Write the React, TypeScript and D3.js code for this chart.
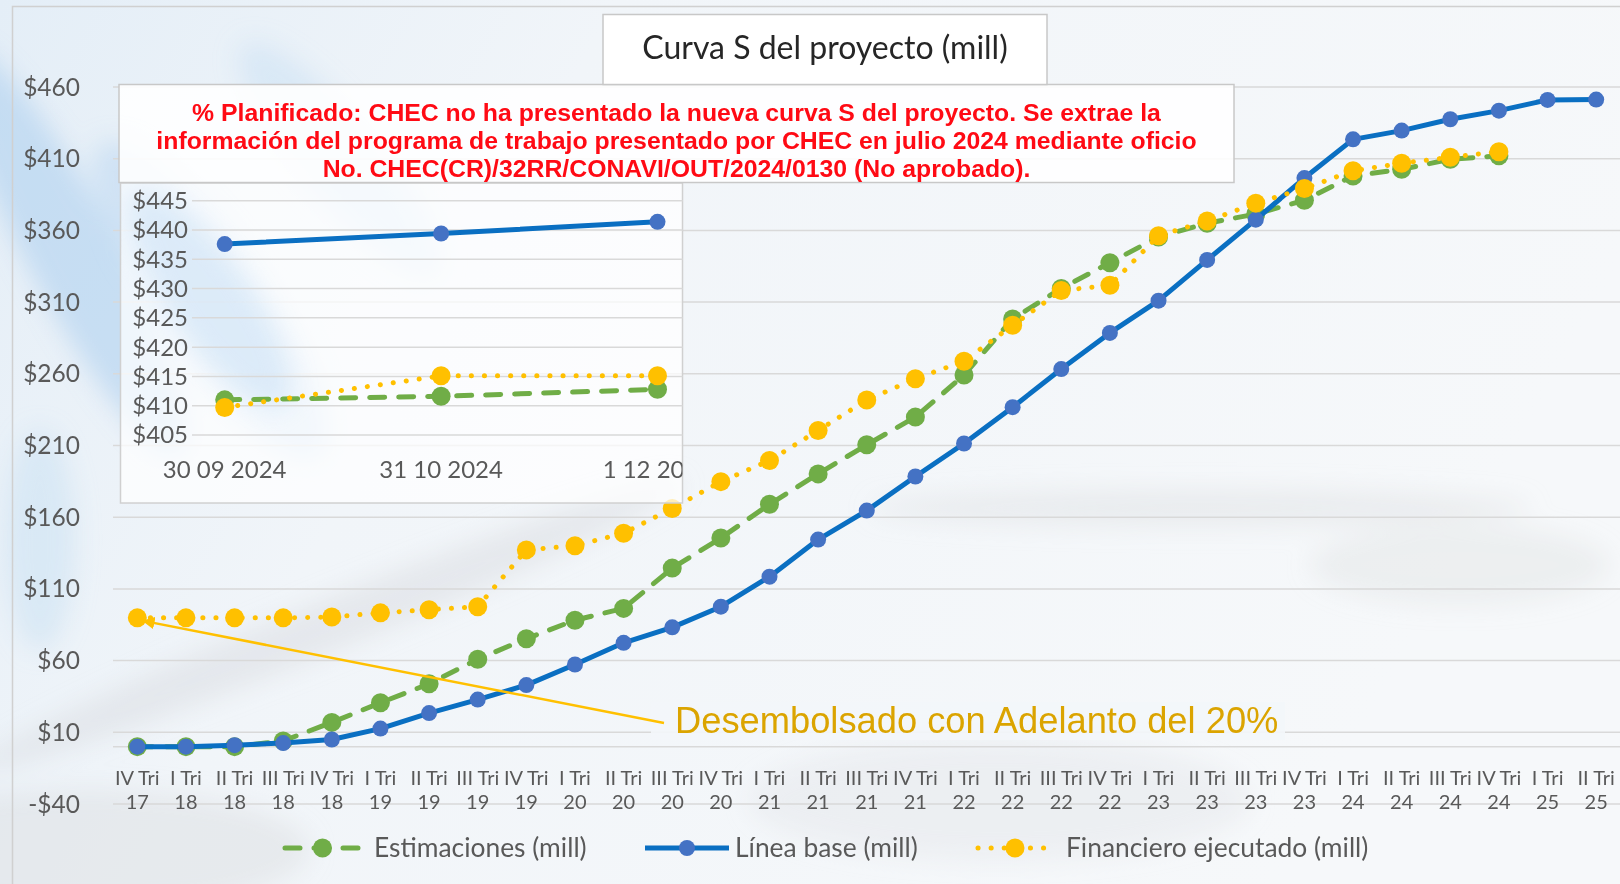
import * as d3 from "d3";

// categorías del eje X (trimestre / año)
const quarterLabels = [
  "IV Tri",
  "I Tri", "II Tri", "III Tri", "IV Tri",
  "I Tri", "II Tri", "III Tri", "IV Tri",
  "I Tri", "II Tri", "III Tri", "IV Tri",
  "I Tri", "II Tri", "III Tri", "IV Tri",
  "I Tri", "II Tri", "III Tri", "IV Tri",
  "I Tri", "II Tri", "III Tri", "IV Tri",
  "I Tri", "II Tri", "III Tri", "IV Tri",
  "I Tri", "II Tri",
];
const yearLabels = [
  "17",
  "18", "18", "18", "18",
  "19", "19", "19", "19",
  "20", "20", "20", "20",
  "21", "21", "21", "21",
  "22", "22", "22", "22",
  "23", "23", "23", "23",
  "24", "24", "24", "24",
  "25", "25",
];

// series (mill)
const estimaciones = [
  0, 0, 0, 4, 16.9, 30.6, 43.8, 60.9, 75.3, 88.2, 96.4, 124.5, 145.5, 169, 190.2,
  210.5, 229.8, 259.1, 298.3, 319.5, 337.5, 355.4, 365, 371.4, 381, 398, 402.6,
  409.6, 412, null, null,
];
const lineaBase = [
  0, 0, 1, 2.5, 5, 12.6, 23.4, 32.8, 42.9, 57.3, 72.4, 83.2, 97.6, 118.5, 144.4,
  164.6, 188.4, 211.4, 236.7, 263.3, 288.5, 311, 339.4, 367.5, 396.5, 423.5,
  429.6, 437.5, 443.5, 451, 451.2,
];
const financiero = [
  89.8, 89.8, 89.8, 89.8, 90.4, 93.3, 95.5, 97.6, 137.2, 140.1, 148.8, 166.1,
  184.8, 199.5, 220.5, 241.7, 256.5, 268.8, 293.8, 318.1, 321.7, 356.3, 366.5,
  379, 389.2, 401.6, 406.8, 411, 414.9, null, null,
];
const yTicks = [-40, 10, 60, 110, 160, 210, 260, 310, 360, 410, 460];

// gráfico pequeño (detalle 2024)
const insetDates = ["2024-09-30", "2024-10-31", "2024-12-01"];
const insetDateLabels = ["30 09 2024", "31 10 2024", "1 12 2024"];
const insetEstim = [411, 411.6, 412.8];
const insetBase = [437.6, 439.4, 441.4];
const insetFin = [409.7, 415.1, 415.1];
const insetTicks = [405, 410, 415, 420, 425, 430, 435, 440, 445];

const noteLines = [
  "% Planificado: CHEC no ha presentado la nueva curva S del proyecto. Se extrae la",
  "información del programa de trabajo presentado por CHEC en julio 2024 mediante oficio",
  "No. CHEC(CR)/32RR/CONAVI/OUT/2024/0130 (No aprobado).",
];

const GREEN = "#70AD47";
const BLUE_LINE = "#0A6FC2";
const BLUE_MARK = "#4472C4";
const YELLOW = "#FFC000";
const GRID = "#d9d9d9";
const LABEL = "#595959";
const FONT = "Lato, 'Open Sans', sans-serif";

const money = (v: number) => (v < 0 ? "-$" + Math.abs(v) : "$" + v);

export default function App() {
  const W = 1620;
  const H = 884;

  const idx = quarterLabels.map((_, i) => i);
  const x = d3.scaleBand<number>().domain(idx).range([113, 1620.5]);
  const cx = (i: number) => (x(i) as number) + x.bandwidth() / 2;
  const y = d3.scaleLinear().domain([-40, 460]).range([804, 87]);

  const mkLine = (yy: (v: number) => number, xx: (i: number) => number) =>
    d3
      .line<number | null>()
      .defined((d) => d != null)
      .x((d, i) => xx(i))
      .y((d) => yy(d as number));

  const mainLine = mkLine(y, cx);

  const series = [
    { name: "Estimaciones (mill)", data: estimaciones, color: GREEN, mark: GREEN, width: 5, dash: "15 14", r: 9.5 },
    { name: "Línea base (mill)", data: lineaBase, color: BLUE_LINE, mark: BLUE_MARK, width: 5, dash: "", r: 8 },
    { name: "Financiero ejecutado (mill)", data: financiero, color: YELLOW, mark: YELLOW, width: 5, dash: "0.1 13", r: 9.5 },
  ];

  // inset
  const parse = d3.timeParse("%Y-%m-%d");
  const dates = insetDates.map((d) => parse(d) as Date);
  const xi = d3.scaleTime().domain([dates[0], dates[2]]).range([224.7, 657.5]);
  const yi = d3.scaleLinear().domain([405, 445]).range([435, 200.7]);
  const insetLine = mkLine(yi, (i) => xi(dates[i]));
  const insetSeries = [
    { data: insetEstim, s: series[0] },
    { data: insetBase, s: series[1] },
    { data: insetFin, s: series[2] },
  ];

  const legendItems = [
    { s: series[0], x0: 285, x1: 360, tx: 374 },
    { s: series[1], x0: 645, x1: 729, tx: 735 },
    { s: series[2], x0: 978, x1: 1052, tx: 1066 },
  ];

  const arrowEnd = { x: cx(0) + 6, y: y(financiero[0] as number) + 3 };

  return (
    <svg
      width={W}
      height={H}
      style={{ position: "absolute", left: 0, top: 0, fontFamily: FONT }}
    >
      <defs>
        <linearGradient id="bg" x1="0" y1="0" x2="1" y2="0.3">
          <stop offset="0" stopColor="#e4eef7" />
          <stop offset="0.35" stopColor="#f1f5f9" />
          <stop offset="1" stopColor="#f6f8fa" />
        </linearGradient>
        <filter id="blur" x="-50%" y="-50%" width="200%" height="200%">
          <feGaussianBlur stdDeviation="12" />
        </filter>
        <marker
          id="arrow"
          viewBox="0 0 10 10"
          refX="9"
          refY="5"
          markerWidth="5"
          markerHeight="5"
          orient="auto"
        >
          <path d="M0,0 L10,5 L0,10 z" fill={YELLOW} />
        </marker>
        <clipPath id="insetClip">
          <rect x={120.5} y={183} width={562} height={320} />
        </clipPath>
      </defs>

      {/* fondo */}
      <rect width={W} height={H} fill="url(#bg)" />
      <g filter="url(#blur)">
        <ellipse cx={70} cy={250} rx={45} ry={230} fill="#a9cdee" opacity={0.55} transform="rotate(-28 70 250)" />
        <ellipse cx={210} cy={300} rx={55} ry={190} fill="#b8d6f2" opacity={0.5} transform="rotate(-35 210 300)" />
        <ellipse cx={340} cy={160} rx={40} ry={150} fill="#c5def4" opacity={0.45} transform="rotate(-40 340 160)" />
        <ellipse cx={40} cy={540} rx={35} ry={110} fill="#c4ddf2" opacity={0.45} />
        <ellipse cx={330} cy={625} rx={380} ry={26} fill="#d6dade" opacity={0.45} transform="rotate(-22 330 625)" />
        <ellipse cx={1200} cy={508} rx={330} ry={18} fill="#dcdee0" opacity={0.45} />
        <ellipse cx={1460} cy={565} rx={150} ry={40} fill="#d6d9dc" opacity={0.3} />
        <ellipse cx={90} cy={850} rx={220} ry={60} fill="#d6d9dc" opacity={0.4} />
        <ellipse cx={1000} cy={800} rx={250} ry={60} fill="#e2e5e8" opacity={0.45} />
      </g>
      <rect x={12.5} y={6.5} width={W} height={H} fill="none" stroke="#d0d0d0" strokeWidth={1.5} />

      {/* rejilla */}
      {yTicks.map((t) => (
        <line key={t} x1={113} x2={W} y1={y(t)} y2={y(t)} stroke={GRID} strokeWidth={1.5} />
      ))}
      <line x1={113} x2={W} y1={y(0)} y2={y(0)} stroke={GRID} strokeWidth={1.5} />

      {/* eje Y */}
      {yTicks.map((t) => (
        <text key={t} x={80} y={y(t)} dy="0.35em" textAnchor="end" fontSize={24.5} fill={LABEL}>
          {money(t)}
        </text>
      ))}

      {/* eje X */}
      {idx.map((i) => (
        <g key={i} fill={LABEL} fontSize={20} textAnchor="middle">
          <text x={cx(i)} y={778} dy="0.35em">{quarterLabels[i]}</text>
          <text x={cx(i)} y={802} dy="0.35em">{yearLabels[i]}</text>
        </g>
      ))}

      {/* series */}
      {series.map((s) => (
        <g key={s.name}>
          <path
            d={mainLine(s.data) || ""}
            fill="none"
            stroke={s.color}
            strokeWidth={s.width}
            strokeDasharray={s.dash || undefined}
            strokeLinecap={s.dash ? "round" : "butt"}
            strokeLinejoin="round"
          />
          {s.data.map((v, i) =>
            v == null ? null : <circle key={i} cx={cx(i)} cy={y(v)} r={s.r} fill={s.mark} />
          )}
        </g>
      ))}

      {/* anotación del adelanto */}
      <rect x={651} y={702} width={634} height={38} fill="#f3f6f9" opacity={0.9} />
      <line
        x1={664}
        y1={723}
        x2={arrowEnd.x}
        y2={arrowEnd.y}
        stroke={YELLOW}
        strokeWidth={2.5}
        markerEnd="url(#arrow)"
      />
      <text
        x={675}
        y={733}
        fontFamily="'Liberation Sans', Arial, sans-serif"
        fontSize={36.3}
        fill="#DBA400"
      >
        Desembolsado con Adelanto del 20%
      </text>

      {/* gráfico interno */}
      <rect x={120.5} y={183} width={562} height={320} fill="#ffffff" fillOpacity={0.72} stroke="#d0d0d0" strokeWidth={1.5} />
      <g clipPath="url(#insetClip)">
        <ellipse cx={210} cy={300} rx={40} ry={130} fill="#c5def4" opacity={0.5} filter="url(#blur)" transform="rotate(-35 210 300)" />
        {insetTicks.map((t) => (
          <line key={t} x1={192} x2={683} y1={yi(t)} y2={yi(t)} stroke={GRID} strokeWidth={1.5} />
        ))}
        {insetTicks.map((t) => (
          <text key={t} x={188} y={yi(t)} dy="0.35em" textAnchor="end" fontSize={24} fill={LABEL}>
            {money(t)}
          </text>
        ))}
        {dates.map((d, i) => (
          <text key={i} x={xi(d)} y={470} dy="0.35em" textAnchor="middle" fontSize={24} fill={LABEL}>
            {insetDateLabels[i]}
          </text>
        ))}
        {insetSeries.map(({ data, s }) => (
          <g key={s.name}>
            <path
              d={insetLine(data) || ""}
              fill="none"
              stroke={s.color}
              strokeWidth={s.width}
              strokeDasharray={s.dash || undefined}
              strokeLinecap={s.dash ? "round" : "butt"}
            />
            {data.map((v, i) => (
              <circle key={i} cx={xi(dates[i])} cy={yi(v)} r={s.r} fill={s.mark} />
            ))}
          </g>
        ))}
      </g>

      {/* nota en rojo */}
      <rect x={119} y={84.5} width={1115} height={98} fill="#ffffff" fillOpacity={0.88} stroke="#c8c8c8" strokeWidth={1.5} />
      {noteLines.map((l, i) => (
        <text
          key={i}
          x={676.5}
          y={111.6 + i * 28.4}
          dy="0.36em"
          textAnchor="middle"
          fontFamily="'Liberation Sans', Arial, sans-serif"
          fontWeight="bold"
          fontSize={24.8}
          fill="#FF0A14"
        >
          {l}
        </text>
      ))}

      {/* título */}
      <rect x={603} y={14.5} width={444} height={70} fill="#ffffff" stroke="#c8c8c8" strokeWidth={1.5} />
      <text x={825} y={47.5} dy="0.35em" textAnchor="middle" fontSize={32} fill="#262626">
        Curva S del proyecto (mill)
      </text>

      {/* leyenda */}
      {legendItems.map(({ s, x0, x1, tx }) => (
        <g key={s.name}>
          <line
            x1={x0}
            x2={x1}
            y1={848}
            y2={848}
            stroke={s.color}
            strokeWidth={s.width}
            strokeDasharray={s.dash || undefined}
            strokeLinecap={s.dash ? "round" : "butt"}
          />
          <circle cx={(x0 + x1) / 2} cy={848} r={s.r} fill={s.mark} />
          <text x={tx} y={848} dy="0.35em" fontSize={26.4} fill={LABEL}>
            {s.name}
          </text>
        </g>
      ))}
    </svg>
  );
}
